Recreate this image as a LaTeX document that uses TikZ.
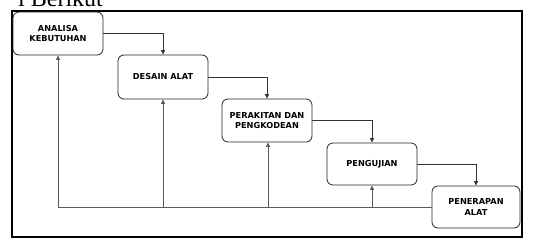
\documentclass[tikz,border=0pt]{standalone}
\usepackage{fontspec}
\setmainfont{DejaVu Sans}
\newfontfamily\headfont{Liberation Serif}
\usetikzlibrary{arrows.meta}
\begin{document}
\begin{tikzpicture}[x=1pt,y=-1pt,
  stage/.style={draw=black!85, line width=0.8pt, rounded corners=6pt, align=center,
    font=\fontsize{8.2}{10.2}\selectfont\bfseries, inner sep=0pt},
  flow/.style={draw=black!80, line width=0.7pt, -{Triangle[length=4.5pt,width=4pt]}},
  back/.style={draw=black!65, line width=0.7pt, -{Triangle[length=4.5pt,width=4pt]}},
  plain/.style={draw=black!65, line width=0.7pt}]
  \useasboundingbox (0,0) rectangle (535,247);
  \clip (0,0) rectangle (535,247);
  \fill[white] (0,0) rectangle (535,247);

  % heading line above the frame (only its lower part is in view)
  \node[anchor=base west, inner sep=0pt, font=\headfont\fontsize{24}{28}\selectfont] (head) at (18,6) {i Berikut};

  % frame
  \draw[line width=1.6pt] (12,11) rectangle (522,237);

  % stages
  \node[stage, minimum width=90pt, minimum height=43pt] (s1) at (58,33.5) {ANALISA\\KEBUTUHAN};
  \node[stage, minimum width=90pt, minimum height=44pt] (s2) at (163,77) {DESAIN ALAT};
  \node[stage, minimum width=90pt, minimum height=43pt] (s3) at (267,120.5) {PERAKITAN DAN\\PENGKODEAN};
  \node[stage, minimum width=90pt, minimum height=42pt] (s4) at (372,164) {PENGUJIAN};
  \node[stage, minimum width=88pt, minimum height=42pt] (s5) at (476,207) {PENERAPAN\\ALAT};

  % forward flow
  \draw[flow] (s1.east) -| (s2.north);
  \draw[flow] (s2.east) -| (s3.north);
  \draw[flow] (s3.east) -| (s4.north);
  \draw[flow] (s4.east) -| (s5.north);

  % feedback paths
  \coordinate (b1) at (58,207);
  \coordinate (b2) at (163,207);
  \coordinate (b3) at (268,207);
  \coordinate (b4) at (372,207);
  \draw[plain] (s5.west) -- (b1);
  \draw[back] (b1) -- (s1.south);
  \draw[back] (b2) -- (s2.south);
  \draw[back] (b3) -- (s3.south -| b3);
  \draw[back] (b4) -- (s4.south);
\end{tikzpicture}
\end{document}
